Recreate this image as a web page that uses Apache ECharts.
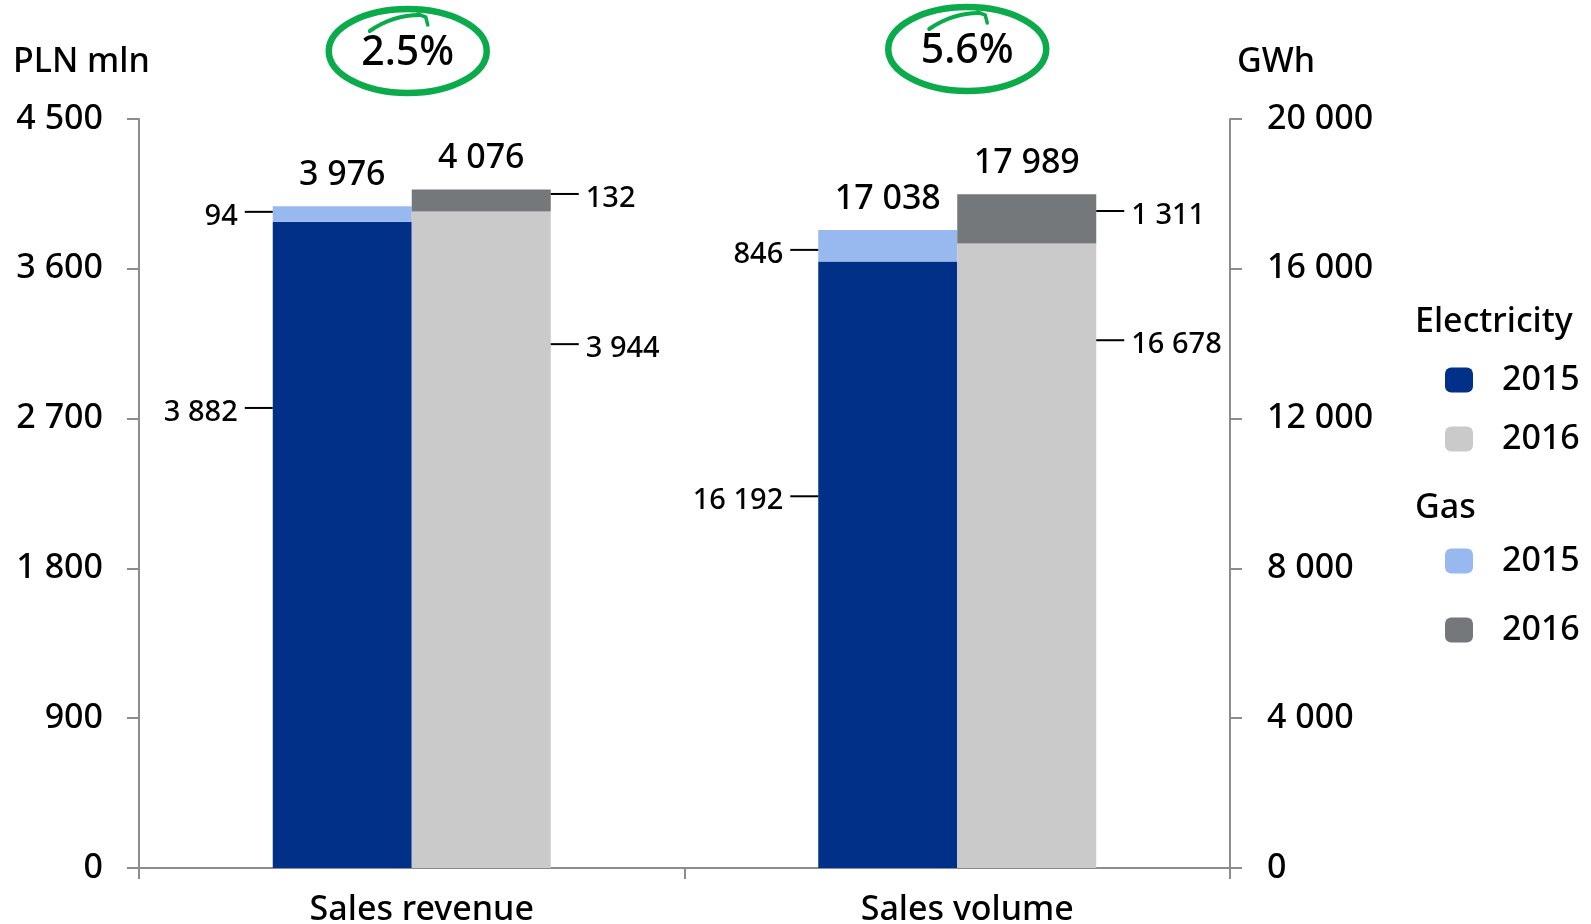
<!DOCTYPE html>
<html>
<head>
<meta charset="utf-8">
<script src="https://cdn.jsdelivr.net/npm/echarts@6/dist/echarts.min.js"></script>
<style>
  html, body { margin: 0; padding: 0; background: #fff; }
  #chart { width: 1591px; height: 924px; }
</style>
</head>
<body>
<div id="chart"></div>
<script>
// Sales revenue (PLN mln) and sales volume (GWh), split into electricity and gas
const categories = ['Sales revenue', 'Sales volume'];
const elec2015 = [3882, 16192];
const gas2015 = [94, 846];
const elec2016 = [3944, 16678];
const gas2016 = [132, 1311];

const FONT = 'Noto Sans';
const WEIGHT = 500;
const C_ELEC15 = '#003087';
const C_ELEC16 = '#c9cac9';
const C_GAS15 = '#97b9ef';
const C_GAS16 = '#75787b';
const AXIS_GREY = '#8c8c8c';
const GREEN = '#0bab4c';

// vertical placement of each callout, as a share of its segment's height
const calloutAt = {
  elec2015: ['28.8%', '38.7%'],
  gas2015: ['36%', '63%'],
  elec2016: ['20.2%', '15.5%'],
  gas2016: ['20%', '34%']
};

const fmt = v => String(v).replace(/\B(?=(\d{3})+(?!\d))/g, ' ');

const rich = {
  v: { fontSize: 29, fontFamily: FONT, fontWeight: WEIGHT, color: '#000', padding: [9, 0, 0, 0] },
  g: { width: 7 },
  ln: { width: 28, height: 2, backgroundColor: '#000', verticalAlign: 'middle' }
};

function pick(arr, i) {
  return categories.map((c, j) => (j === i ? arr[i] : '-'));
}

function segment(name, key, arr, color, stack, side, i) {
  const left = side === 'left';
  return {
    type: 'bar',
    name: name,
    stack: stack,
    xAxisIndex: i,
    yAxisIndex: i,
    barWidth: 139,
    barGap: '0%',
    data: pick(arr, i),
    itemStyle: { color: color },
    silent: true,
    label: {
      show: true,
      position: [left ? 0 : '100%', calloutAt[key][i]],
      align: left ? 'right' : 'left',
      verticalAlign: 'middle',
      formatter: p => left ? '{v|' + fmt(p.value) + '}{g|}{ln|}' : '{ln|}{g|}{v|' + fmt(p.value) + '}',
      rich: rich
    }
  };
}

function total(stack, a, b, i) {
  return {
    type: 'bar',
    name: 'total-' + stack,
    stack: stack,
    xAxisIndex: i,
    yAxisIndex: i,
    barWidth: 139,
    barGap: '0%',
    data: pick(a.map(() => 0), i),
    itemStyle: { color: 'rgba(0,0,0,0)' },
    silent: true,
    label: {
      show: true,
      position: 'top',
      distance: 14,
      fontSize: 34,
      fontFamily: FONT,
      fontWeight: WEIGHT,
      color: '#000',
      formatter: () => fmt(a[i] + b[i])
    }
  };
}

const series = [];
[0, 1].forEach(i => {
  const s15 = 'y2015-' + i, s16 = 'y2016-' + i;
  series.push(segment('Electricity 2015', 'elec2015', elec2015, C_ELEC15, s15, 'left', i));
  series.push(segment('Gas 2015', 'gas2015', gas2015, C_GAS15, s15, 'left', i));
  series.push(total(s15, elec2015, gas2015, i));
  series.push(segment('Electricity 2016', 'elec2016', elec2016, C_ELEC16, s16, 'right', i));
  series.push(segment('Gas 2016', 'gas2016', gas2016, C_GAS16, s16, 'right', i));
  series.push(total(s16, elec2016, gas2016, i));
});

const axisLine = { show: true, lineStyle: { color: AXIS_GREY, width: 2 } };
const axisTick = { show: true, length: 12, lineStyle: { color: AXIS_GREY, width: 2 } };

function valueAxis(pos, max, interval, margin) {
  return {
    type: 'value',
    position: pos,
    min: 0,
    max: max,
    interval: interval,
    splitLine: { show: false },
    axisLine: axisLine,
    axisTick: axisTick,
    axisLabel: {
      margin: margin,
      fontSize: 34,
      fontFamily: FONT,
      fontWeight: WEIGHT,
      color: '#000',
      formatter: v => fmt(v)
    }
  };
}

const legendText = { fontSize: 34, fontFamily: FONT, fontWeight: WEIGHT, color: '#000', lineHeight: 25, padding: [0, 0, 0, 24] };

const chart = echarts.init(document.getElementById('chart'), null, { renderer: 'canvas' });
chart.setOption({
  animation: false,
  grid: { left: 139, right: 361, top: 119, bottom: 56, outerBoundsMode: 'none', containLabel: false },
  xAxis: [
    {
      type: 'category',
      data: categories,
      axisLine: axisLine,
      axisTick: { show: true, length: 11, interval: 0, lineStyle: { color: AXIS_GREY, width: 2 } },
      axisLabel: { margin: 25, fontSize: 34, fontFamily: FONT, fontWeight: WEIGHT, color: '#000', padding: [0, 0, 0, 20] }
    },
    { type: 'category', data: categories, show: false }
  ],
  yAxis: [
    valueAxis('left', 4500, 900, 36),
    valueAxis('right', 20000, 4000, 37)
  ],
  legend: [
    {
      data: ['Electricity 2015', 'Electricity 2016'],
      orient: 'vertical', left: 1445, top: 363, padding: 0,
      itemWidth: 28, itemHeight: 25, itemGap: 25, icon: 'roundRect',
      selectedMode: false,
      formatter: n => n.split(' ')[1],
      textStyle: legendText
    },
    {
      data: ['Gas 2015', 'Gas 2016'],
      orient: 'vertical', left: 1445, top: 544, padding: 0,
      itemWidth: 28, itemHeight: 25, itemGap: 35, icon: 'roundRect',
      selectedMode: false,
      formatter: n => n.split(' ')[1],
      textStyle: legendText
    }
  ],
  series: series
});

// headings and the circled year-on-year growth notes
function label(text, x, y) {
  return {
    type: 'text', x: x, y: y, silent: true,
    style: { text: text, fontSize: 34, fontFamily: FONT, fontWeight: WEIGHT, fill: '#000', verticalAlign: 'middle' }
  };
}

function growthNote(i, dx, cy) {
  const cx = chart.convertToPixel({ xAxisIndex: 0 }, categories[i]) + dx;
  const pct = ((elec2016[i] + gas2016[i]) / (elec2015[i] + gas2015[i]) - 1) * 100;
  return {
    type: 'group', x: cx, y: cy, silent: true,
    children: [
      { type: 'ellipse', shape: { cx: 0, cy: 0, rx: 79, ry: 42 },
        style: { stroke: GREEN, lineWidth: 6.5, fill: 'none' } },
      { type: 'bezierCurve', shape: { x1: -38, y1: -20, cpx1: -15, cpy1: -36, x2: 12, y2: -36 },
        style: { stroke: GREEN, lineWidth: 4, fill: 'none', lineCap: 'round' } },
      { type: 'polyline', shape: { points: [[10, -37], [18, -34], [20, -26]] },
        style: { stroke: GREEN, lineWidth: 3.5, fill: 'none', lineCap: 'round' } },
      { type: 'text', x: 0, y: 2,
        style: { text: pct.toFixed(1) + '%', fontSize: 41, fontFamily: FONT, fontWeight: WEIGHT, fill: '#000', align: 'center', verticalAlign: 'middle' } }
    ]
  };
}

chart.setOption({
  graphic: [
    label('PLN mln', 13, 62),
    label('GWh', 1237, 62),
    label('Electricity', 1415, 322),
    label('Gas', 1415, 508),
    growthNote(0, -4, 51),
    growthNote(1, 10, 49)
  ]
});
</script>
</body>
</html>
